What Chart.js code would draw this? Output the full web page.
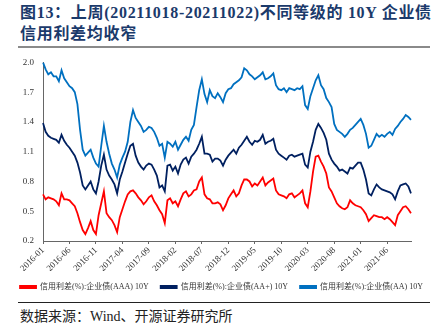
<!DOCTYPE html>
<html>
<head>
<meta charset="utf-8">
<script src="https://cdn.jsdelivr.net/npm/chart.js@4/dist/chart.umd.min.js"></script>
<style>
  html, body { margin: 0; padding: 0; background: #fff; }
  body { width: 443px; height: 324px; position: relative; overflow: hidden; }
  .title {
    position: absolute; left: 20px; top: 2px; width: 423px;
    font: bold 16px "Liberation Serif", "Noto Sans CJK SC", serif;
    line-height: 21px; color: #1b3a6b; letter-spacing: 0.7px;
  }
  .rule-top { position: absolute; left: 18px; top: 46px; width: 412px; height: 2px; background: #8a8a8a; }
  .rule-bottom { position: absolute; left: 18px; top: 302px; width: 412px; height: 1px; background: #222; }
  .source {
    position: absolute; left: 20px; top: 305px;
    font: 14px "Liberation Serif", "Noto Sans CJK SC", serif; color: #222;
  }
  #chart { position: absolute; left: 0; top: 48px; }
</style>
</head>
<body>
<div class="title">图13：上周(20211018-20211022)不同等级的 10Y 企业债<br>信用利差均收窄</div>
<div class="rule-top"></div>
<canvas id="chart" width="443" height="253"></canvas>
<div class="rule-bottom"></div>
<div class="source">数据来源：Wind、开源证券研究所</div>
<script>
// half-month sampling, 2016-01 to 2021-10
const startYear = 2016;
const pointCount = 140;

const tickLabels = ['2016-01', '2016-06', '2016-11', '2017-04', '2017-09', '2018-02', '2018-07',
  '2018-12', '2019-05', '2019-10', '2020-03', '2020-08', '2021-01', '2021-06'];

const seriesNames = [
  '信用利差(%):企业债(AAA) 10Y',
  '信用利差(%):企业债(AA+) 10Y',
  '信用利差(%):企业债(AA) 10Y'
];

const aaa = [
  0.67, 0.62, 0.64, 0.63, 0.62, 0.60, 0.56, 0.68, 0.62, 0.62,
  0.61, 0.58, 0.55, 0.48, 0.39, 0.31, 0.27, 0.33, 0.40, 0.31,
  0.27, 0.46, 0.58, 0.70, 0.48, 0.44, 0.41, 0.36, 0.29, 0.44,
  0.52, 0.60, 0.67, 0.70, 0.71, 0.68, 0.64, 0.61, 0.57, 0.60,
  0.64, 0.66, 0.60, 0.56, 0.51, 0.47, 0.38, 0.61, 0.63, 0.58,
  0.60, 0.55, 0.62, 0.68, 0.70, 0.65, 0.67, 0.71, 0.72, 0.80,
  0.84, 0.67, 0.63, 0.62, 0.58, 0.58, 0.59, 0.57, 0.51, 0.56,
  0.63, 0.67, 0.71, 0.65, 0.68, 0.76, 0.82, 0.82, 0.80, 0.75,
  0.78, 0.76, 0.80, 0.84, 0.76, 0.79, 0.81, 0.83, 0.71, 0.67,
  0.66, 0.65, 0.63, 0.67, 0.68, 0.64, 0.66, 0.68, 0.71, 0.58,
  0.54, 0.70, 0.90, 1.05, 1.06, 1.00, 0.95, 0.88, 0.74, 0.70,
  0.64, 0.58, 0.55, 0.53, 0.52, 0.54, 0.61, 0.58, 0.56, 0.55,
  0.54, 0.51, 0.47, 0.40, 0.43, 0.46, 0.45, 0.44, 0.44, 0.42,
  0.44, 0.42, 0.39, 0.36, 0.46, 0.50, 0.54, 0.55, 0.52, 0.48
];

const aaPlus = [
  1.39, 1.30, 1.26, 1.24, 1.23, 1.22, 1.19, 1.27, 1.21, 1.17,
  1.14, 1.10, 1.06, 0.99, 0.89, 0.76, 0.72, 0.76, 0.80, 0.72,
  0.68, 0.80, 0.96, 1.07, 0.92, 0.86, 0.82, 0.77, 0.68, 0.82,
  0.90, 0.99, 1.08, 1.16, 1.18, 1.06, 0.99, 0.95, 0.92, 0.96,
  0.98, 0.97, 0.92, 0.86, 0.74, 0.76, 0.70, 0.96, 0.97, 0.91,
  0.95, 0.88, 0.97, 1.02, 1.04, 0.98, 1.05, 1.08, 1.12, 1.18,
  1.25, 1.08, 1.08, 1.07, 1.00, 1.03, 1.03, 1.01, 0.96, 1.02,
  1.06, 1.09, 1.12, 1.08, 1.14, 1.17, 1.21, 1.25, 1.20, 1.17,
  1.21, 1.20, 1.22, 1.27, 1.18, 1.20, 1.21, 1.23, 1.12, 1.08,
  1.06, 1.04, 1.02, 1.06, 1.07, 1.05, 1.06, 1.07, 1.08, 0.97,
  0.94, 1.10, 1.20, 1.32, 1.38, 1.34, 1.29, 1.22, 1.08, 1.02,
  0.98, 0.95, 0.91, 0.92, 0.90, 0.88, 0.94, 0.93, 0.96, 0.99,
  0.99, 0.92, 0.82, 0.68, 0.66, 0.72, 0.77, 0.74, 0.72, 0.71,
  0.70, 0.69, 0.67, 0.62, 0.70, 0.76, 0.77, 0.78, 0.75, 0.68
];

const aa = [
  2.00, 1.93, 1.88, 1.90, 1.86, 1.86, 1.81, 1.92, 1.84, 1.80,
  1.76, 1.74, 1.70, 1.58, 1.32, 1.12, 1.06, 1.09, 1.12, 1.04,
  0.98, 0.95, 1.16, 1.36, 1.20, 1.08, 0.98, 0.92, 0.84, 0.97,
  1.04, 1.10, 1.20, 1.40, 1.52, 1.44, 1.40, 1.36, 1.30, 1.32,
  1.35, 1.34, 1.30, 1.24, 1.16, 1.18, 1.04, 1.20, 1.18, 1.15,
  1.20, 1.12, 1.17, 1.22, 1.25, 1.21, 1.32, 1.37, 1.55, 1.72,
  1.83, 1.68, 1.60, 1.72, 1.66, 1.64, 1.69, 1.65, 1.60, 1.69,
  1.73, 1.74, 1.78, 1.80, 1.82, 1.85, 1.94, 1.92, 1.88, 1.86,
  1.83, 1.85, 1.87, 1.90, 1.83, 1.84, 1.86, 1.89, 1.77, 1.73,
  1.72, 1.74, 1.70, 1.74, 1.73, 1.72, 1.74, 1.73, 1.76, 1.57,
  1.53, 1.66, 1.74, 1.82, 1.87, 1.77, 1.73, 1.64, 1.60, 1.55,
  1.38, 1.32, 1.30, 1.28, 1.25, 1.28, 1.32, 1.34, 1.37, 1.40,
  1.43, 1.37, 1.28, 1.14, 1.16, 1.22, 1.28, 1.25, 1.27, 1.25,
  1.28, 1.30, 1.27, 1.33, 1.36, 1.40, 1.43, 1.47, 1.45, 1.42
];

const colors = ['#ff0000', '#002060', '#0070c0'];

// category labels: one per half month, first of month gets "YYYY-MM"
const labels = [];
for (let i = 0; i < pointCount; i++) {
  const m = Math.floor(i / 2);
  const y = startYear + Math.floor(m / 12);
  const mm = String(m % 12 + 1).padStart(2, '0');
  labels.push(i % 2 === 0 ? `${y}-${mm}` : `${y}-${mm}-h`);
}

const serif = '"Liberation Serif", "Noto Sans CJK SC", serif';

new Chart(document.getElementById('chart'), {
  type: 'line',
  data: {
    labels: labels,
    datasets: [aaa, aaPlus, aa].map((values, i) => ({
      label: seriesNames[i],
      data: values,
      borderColor: colors[i],
      backgroundColor: colors[i],
      borderWidth: 1.8,
      pointRadius: 0,
      tension: 0
    }))
  },
  options: {
    responsive: false,
    animation: false,
    layout: { padding: { top: 13, right: 0, left: 0, bottom: 0 } },
    plugins: {
      legend: {
        position: 'bottom',
        labels: {
          boxWidth: 16,
          boxHeight: 2,
          padding: 12,
          color: '#333',
          font: { family: serif, size: 8 }
        }
      },
      tooltip: { enabled: false }
    },
    scales: {
      x: {
        afterFit: (scale) => { scale.height = 30; },
        border: { display: true, color: '#666', width: 1 },
        grid: { display: true, drawOnChartArea: false, tickLength: 3, color: '#666' },
        ticks: {
          autoSkip: false,
          maxRotation: 45,
          minRotation: 45,
          padding: 1,
          color: '#333',
          font: { family: serif, size: 9 },
          callback: (value, index) => {
            const lab = labels[index];
            return tickLabels.includes(lab) ? lab : null;
          }
        }
      },
      y: {
        min: 0.2,
        max: 2.0,
        afterFit: (scale) => { scale.width = 43; },
        border: { display: true, color: '#666', width: 1 },
        grid: { display: false, drawTicks: false },
        ticks: {
          stepSize: 0.3,
          padding: 9,
          color: '#333',
          font: { family: serif, size: 9 },
          callback: (value) => value.toFixed(1)
        }
      },
      // empty right axis that only reserves the blank margin on the right
      yRight: {
        position: 'right',
        display: true,
        afterFit: (scale) => { scale.width = 32; },
        border: { display: false },
        grid: { display: false },
        ticks: { display: false }
      }
    }
  }
});
</script>
</body>
</html>
